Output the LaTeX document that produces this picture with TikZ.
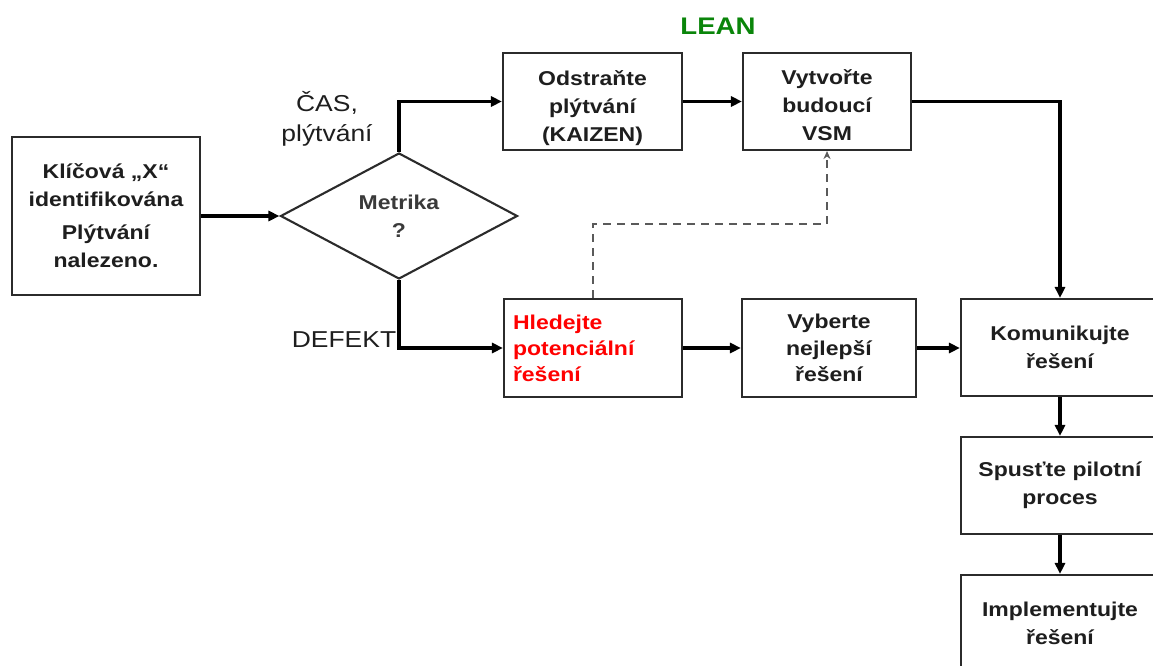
\documentclass[tikz,border=0pt]{standalone}
\usepackage{fontspec}
\setmainfont{Liberation Sans}[FakeStretch=1.15]
\usetikzlibrary{arrows.meta,shapes.geometric}
\definecolor{inkline}{HTML}{2B2B2B}
\definecolor{boxtext}{HTML}{1E1E1E}
\definecolor{softtext}{HTML}{3A3A3A}
\definecolor{leangreen}{HTML}{0A850A}
\definecolor{idea}{HTML}{FF0000}
\definecolor{dashgray}{HTML}{5A5A5A}
% invisible strut that lowers a centred text block a little
\newcommand{\lowerstrut}[1]{\rule{0pt}{#1}}
\begin{document}
\begin{tikzpicture}[x=1pt,y=-1pt,
  stepbox/.style={draw=inkline,line width=2.1pt,inner sep=0pt,align=center,text=boxtext,
    font=\fontsize{20}{28}\selectfont\bfseries},
  flow/.style={line width=3.2pt,-{Triangle[length=11pt,width=10pt]},black},
  lbl/.style={text=boxtext,font=\fontsize{23}{30}\selectfont,align=center,inner sep=0pt},
  hint/.style={dashed,dash pattern=on 8pt off 6pt,line width=1.5pt,dashgray,
    -{Stealth[length=8pt,width=7pt]}}]
  \fill[white] (0,0) rectangle (1153,666);
  \useasboundingbox (0,0) rectangle (1153,666);

  % start and decision
  \node[stepbox,minimum width=188pt,minimum height=158pt] (found) at (106,216)
    {Klíčová „X“\\identifikována\\[5pt]Plýtvání\\nalezeno.};
  \node[diamond,shape aspect=1.9,draw=inkline,line width=2.1pt,inner sep=0pt,
    minimum width=237pt,minimum height=126pt,align=center,text=softtext,
    font=\fontsize{20}{28}\selectfont\bfseries] (metric) at (399,216) {Metrika\\?};

  % branch labels
  \node[font=\fontsize{24}{28}\selectfont\bfseries,text=leangreen,anchor=base,inner sep=0pt]
    (lean) at (718,35) {LEAN};
  \node[lbl] (timewaste) at (327,119) {ČAS,\\plýtvání};
  \node[lbl,anchor=base] (defect) at (344,347) {DEFEKT};

  % upper (lean) branch
  \node[stepbox,minimum width=179pt,minimum height=97pt] (odstr) at (592.5,101.5)
    {\lowerstrut{28pt}Odstraňte\\plýtvání\\(KAIZEN)};
  \node[stepbox,minimum width=168pt,minimum height=97pt] (vytv) at (827,101.5)
    {\lowerstrut{23pt}Vytvořte\\budoucí\\VSM};

  % lower (defect) branch
  \node[stepbox,minimum width=178pt,minimum height=98pt,text width=160pt,align=left,
    text=idea,font=\fontsize{20}{26}\selectfont\bfseries] (hled) at (593,348)
    {Hledejte\\potenciální\\řešení};
  \node[stepbox,minimum width=174pt,minimum height=98pt,
    font=\fontsize{20}{26.5}\selectfont\bfseries] (vyb) at (829,348)
    {Vyberte\\nejlepší\\řešení};

  % common tail
  \node[stepbox,minimum width=198pt,minimum height=97pt] (komun) at (1060,347.5)
    {Komunikujte\\řešení};
  \node[stepbox,minimum width=198pt,minimum height=97pt] (spust) at (1060,485.5)
    {Spusťte pilotní\\proces};
  \node[stepbox,minimum width=198pt,minimum height=97pt] (impl) at (1060,623.5)
    {Implementujte\\řešení};

  % connectors
  \draw[flow] (found.east) -- (metric.west);
  \draw[flow] (metric.north) |- (odstr.west);
  \draw[flow] (metric.south) |- (hled.west);
  \draw[flow] (odstr.east) -- (vytv.west);
  \draw[flow] (vytv.east) -| (komun.north);
  \draw[flow] (hled.east) -- (vyb.west);
  \draw[flow] (vyb.east) -- (vyb.east -| komun.west);
  \draw[flow] (komun.south) -- (spust.north);
  \draw[flow] (spust.south) -- (impl.north);

  \coordinate (hintlevel) at (0,224);
  \draw[hint] (hled.north) -- (hled.north |- hintlevel) -| (vytv.south);
\end{tikzpicture}
\end{document}
